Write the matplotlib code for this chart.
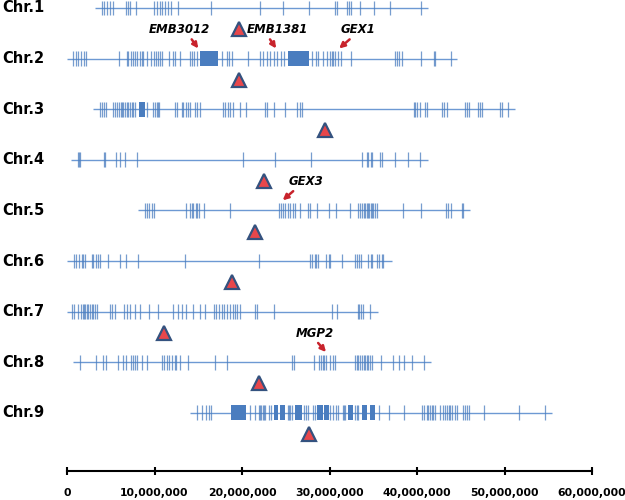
import matplotlib
matplotlib.use("Agg")
import matplotlib.pyplot as plt
from matplotlib.ticker import FuncFormatter

# chromosome names and their extents (bp / 1e6)
chroms = ["Chr.1", "Chr.2", "Chr.3", "Chr.4", "Chr.5", "Chr.6", "Chr.7", "Chr.8", "Chr.9"]
chrom_start = [3.2, 0.0, 3.0, 0.5, 8.1, 0.0, 0.0, 0.7, 14.0]
chrom_end = [41.3, 44.6, 51.2, 41.2, 46.1, 37.1, 35.5, 41.6, 55.4]

# centromere positions (Mb)
centromere = [19.7, 19.7, 29.5, 22.5, 21.5, 18.9, 11.1, 21.9, 27.7]

# gene positions on each chromosome (Mb)
genes1 = [3.97, 4.23, 4.6, 4.91, 5.22, 6.74, 7.0, 7.2, 7.89, 9.94, 10.3, 10.6, 10.9, 11.2, 11.5,
          11.85, 12.7, 16.5, 22.06, 24.65, 27.6, 30.6, 30.8, 32.0, 32.2, 32.4, 33.5, 35.1, 36.9, 40.4]
genes2 = [0.7, 1.0, 1.3, 1.6, 1.9, 2.2, 5.98, 6.82, 7.0, 7.28, 7.5, 7.77, 8.03, 8.34, 8.53, 8.72,
          9.1, 9.56, 9.94, 10.17, 10.4, 10.6, 10.9, 11.6, 12.1, 12.3, 12.9, 14.0, 14.25, 14.5, 14.8,
          17.7, 18.25, 18.55, 18.8, 20.7, 22.06, 22.4, 22.8, 23.2, 23.6, 24.0, 24.4, 24.8, 28.0,
          28.4, 28.7, 29.2, 29.7, 30.1, 30.25, 30.4, 30.6, 31.0, 31.3, 32.4, 37.5, 37.7, 37.9,
          38.25, 40.5, 41.9, 42.1, 43.85]
genes3 = [3.77, 3.97, 4.23, 4.46, 5.3, 5.5, 5.75, 5.98, 6.13, 6.3, 6.43, 6.63, 6.82, 7.0, 7.2,
          7.39, 7.58, 7.77, 9.18, 9.86, 10.06, 10.25, 10.43, 10.55, 12.3, 12.6, 13.1, 13.3, 13.56,
          13.8, 14.06, 14.6, 14.9, 15.2, 17.8, 18.06, 18.4, 18.6, 19.0, 19.8, 20.5, 22.6, 22.8,
          23.6, 24.9, 26.25, 26.6, 26.8, 39.6, 39.8, 40.0, 40.3, 40.9, 41.1, 42.8, 43.1, 43.4,
          45.5, 45.7, 45.9, 47.0, 47.2, 47.4, 49.5, 49.7, 50.4]
genes4 = [1.3, 1.4, 1.5, 4.23, 4.37, 5.56, 6.06, 6.63, 7.96, 20.15, 23.77, 27.85, 33.7, 34.25,
          34.4, 34.7, 34.9, 35.8, 36.0, 37.5, 39.0, 40.3]
genes5 = [8.9, 9.1, 9.4, 9.68, 9.94, 13.6, 14.06, 14.25, 14.44, 14.74, 14.9, 15.1, 15.6, 18.6,
          24.26, 24.4, 24.65, 24.9, 25.2, 25.5, 25.8, 26.06, 26.6, 27.5, 27.8, 28.6, 29.9, 30.74,
          32.3, 33.3, 33.5, 33.7, 33.9, 34.06, 34.25, 34.4, 34.5, 34.7, 34.8, 35.0, 35.2, 35.4,
          38.4, 40.4, 43.3, 43.5, 43.85, 45.1, 45.3]
genes6 = [0.8, 1.03, 1.4, 1.68, 1.86, 2.06, 2.82, 3.0, 3.3, 3.58, 3.77, 4.72, 6.06, 6.74, 8.15,
          13.5, 21.9, 27.8, 28.0, 28.3, 28.5, 28.7, 29.6, 29.9, 30.1, 31.4, 32.9, 33.1, 33.4,
          33.6, 34.4, 34.7, 34.9, 35.4, 35.7, 35.96, 36.1]
genes7 = [0.54, 0.8, 1.3, 1.56, 1.8, 1.94, 2.1, 2.25, 2.44, 2.63, 2.82, 3.0, 3.2, 3.39, 4.91,
          5.1, 5.49, 6.51, 6.82, 7.2, 7.77, 8.34, 9.4, 10.4, 12.15, 12.72, 13.1, 13.6, 14.36,
          15.2, 15.77, 16.8, 17.03, 17.4, 17.7, 17.9, 18.25, 18.6, 18.93, 19.2, 19.46, 19.77,
          21.5, 21.75, 23.66, 30.25, 30.8, 33.2, 33.4, 33.6, 33.8, 34.6]
genes8 = [1.49, 3.3, 4.15, 4.46, 5.87, 6.36, 6.74, 7.28, 7.5, 7.77, 8.03, 8.53, 9.1, 10.8, 11.1,
          11.4, 11.7, 11.97, 12.3, 12.5, 12.9, 13.86, 16.9, 18.25, 25.7, 25.94, 28.2, 28.8, 29.0,
          29.2, 29.4, 29.6, 30.1, 30.4, 30.6, 32.9, 33.1, 33.3, 33.5, 33.7, 33.9, 34.06, 34.25,
          34.4, 34.6, 34.8, 35.85, 37.2, 37.9, 38.5, 39.4, 40.8]
genes9 = [14.8, 15.46, 15.85, 16.26, 16.46, 20.9, 21.5, 21.9, 22.05, 22.2, 22.4, 22.5, 22.6,
          23.1, 23.3, 25.3, 25.4, 25.5, 25.7, 27.1, 27.3, 27.5, 28.1, 28.3, 30.1, 30.4, 30.7,
          31.0, 31.5, 31.65, 31.8, 32.9, 33.1, 33.3, 35.65, 36.8, 38.55, 40.6, 40.8, 41.1, 41.3,
          41.5, 41.7, 41.85, 42.1, 42.6, 43.0, 43.2, 43.4, 43.6, 43.77, 43.96, 44.3, 44.6, 45.3,
          45.5, 45.7, 45.9, 47.7, 51.6, 54.6]
genes = [genes1, genes2, genes3, genes4, genes5, genes6, genes7, genes8, genes9]

# regions so dense with genes that they show as solid blocks (start, end in Mb)
dense2 = [(15.2, 17.3), (25.3, 27.6)]
dense3 = [(8.26, 8.91)]
dense9 = [(18.74, 20.5), (23.6, 24.1), (24.3, 24.9), (26.1, 26.9), (28.6, 29.2), (29.4, 29.9),
          (32.1, 32.7), (33.7, 34.25), (34.6, 35.2)]
dense = [[], dense2, dense3, [], [], [], [], [], dense9]

# highlighted genes: name, chromosome index, position (Mb)
hl_names = ["EMB3012", "EMB1381", "GEX1", "GEX3", "MGP2"]
hl_chrom = [1, 1, 1, 4, 7]
hl_pos = [15.0, 23.9, 31.1, 24.65, 29.6]
# arrow tail offset and label offset (Mb) for each highlighted gene
hl_tail_dx = [-0.75, -0.7, 1.2, 1.2, -0.9]
hl_label_dx = [-2.2, 0.1, 2.2, 2.7, -1.3]

line_col = "#6d99d3"
gene_col = "#4a7dbf"
red = "#c8232c"

fig = plt.figure(figsize=(6.25, 5), dpi=100)
ax = fig.add_axes([67 / 625, 29 / 500, 525 / 625, 471 / 500])

for i in range(len(chroms)):
    y = -i
    ax.hlines(y, chrom_start[i], chrom_end[i], color=line_col, lw=1.0, zorder=1)
    ax.vlines(genes[i], y - 0.145, y + 0.145, color=gene_col, lw=0.9, alpha=0.75, zorder=2)
    if dense[i]:
        ax.broken_barh([(a, b - a) for a, b in dense[i]], (y - 0.145, 0.29),
                       facecolor=gene_col, edgecolor="none", zorder=2)
    ax.plot(centromere[i], y - 0.42, marker="^", ms=9.5, mfc="#e8474b", mec="#34527f",
            mew=1.6, ls="none", zorder=3)
    ax.text(-0.124, y, chroms[i], transform=ax.get_yaxis_transform(), ha="left", va="center",
            fontsize=10.5, fontweight="bold", color="black")

# arrows and labels for the highlighted genes
for name, c, pos, tdx, ldx in zip(hl_names, hl_chrom, hl_pos, hl_tail_dx, hl_label_dx):
    y = -c
    ax.annotate("", xy=(pos, y + 0.2), xytext=(pos + tdx, y + 0.38),
                arrowprops=dict(arrowstyle="-|>", color=red, lw=1.8, mutation_scale=8,
                                shrinkA=0, shrinkB=0))
    ax.text(pos + ldx, y + 0.57, name, ha="center", va="center", fontsize=8.5,
            fontweight="bold", fontstyle="italic", color="black")

ax.set_xlim(0, 60)
ax.set_ylim(-9.15, 0.158)
ax.set_xticks(range(0, 61, 10))
ax.xaxis.set_major_formatter(FuncFormatter(lambda v, p: "{:,}".format(int(round(v * 1e6)))))
for s in ["top", "right", "left"]:
    ax.spines[s].set_visible(False)
ax.spines["bottom"].set_linewidth(1.5)
ax.set_yticks([])
ax.tick_params(axis="x", direction="inout", length=6, width=1.5, pad=9, labelsize=7.8)
for lab in ax.get_xticklabels():
    lab.set_fontweight("bold")

fig.savefig("out.png", dpi=100)
